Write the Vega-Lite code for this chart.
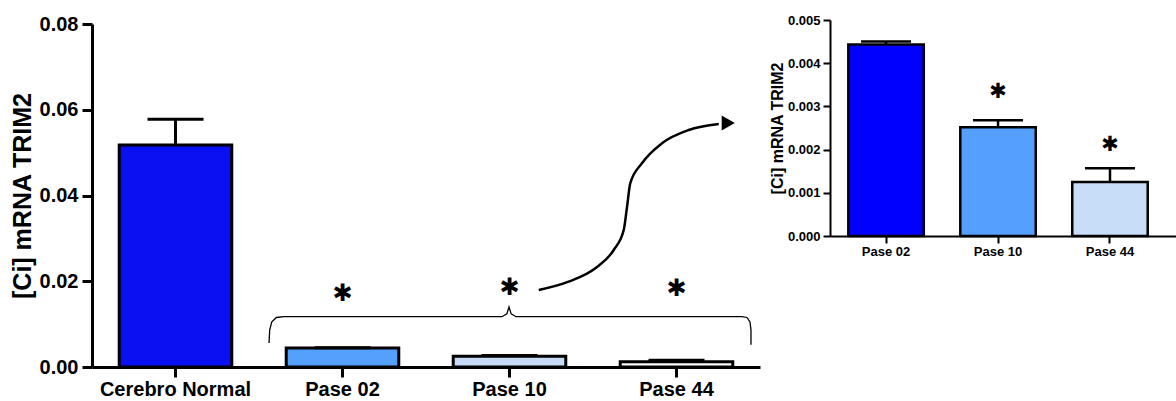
{
  "$schema": "https://vega.github.io/schema/vega-lite/v6.json",
  "background": "white",
  "padding": {"left": 10, "top": 14, "right": 0, "bottom": 0},
  "spacing": 9,
  "resolve": {"scale": {"color": "independent"}},
  "config": {
    "view": {"stroke": null},
    "font": "Liberation Sans",
    "axis": {
      "domainColor": "black",
      "tickColor": "black",
      "labelColor": "black",
      "titleColor": "black",
      "labelFont": "Liberation Sans",
      "titleFont": "Liberation Sans",
      "labelFontWeight": "bold",
      "titleFontWeight": "bold",
      "grid": false
    }
  },
  "datasets": {
    "main": [
      {"group": "Cerebro Normal", "value": 0.0518, "err": 0.0578},
      {"group": "Pase 02", "value": 0.00442, "err": 0.0045},
      {"group": "Pase 10", "value": 0.00252, "err": 0.00268},
      {"group": "Pase 44", "value": 0.00125, "err": 0.00157}
    ],
    "mainStars": [
      {"group": "Pase 02", "value": 0.01756, "label": "✱"},
      {"group": "Pase 10", "value": 0.01878, "label": "✱"},
      {"group": "Pase 44", "value": 0.01866, "label": "✱"}
    ],
    "brace": [
      {"order": 1, "pos": 1.060, "value": 0.0056},
      {"order": 2, "pos": 1.064, "value": 0.0086},
      {"order": 3, "pos": 1.076, "value": 0.0105},
      {"order": 4, "pos": 1.104, "value": 0.01155},
      {"order": 5, "pos": 1.150, "value": 0.01173},
      {"order": 6, "pos": 2.455, "value": 0.01173},
      {"order": 7, "pos": 2.484, "value": 0.0124},
      {"order": 8, "pos": 2.497, "value": 0.0140},
      {"order": 9, "pos": 2.510, "value": 0.0124},
      {"order": 10, "pos": 2.539, "value": 0.01173},
      {"order": 11, "pos": 3.892, "value": 0.01173},
      {"order": 12, "pos": 3.922, "value": 0.01155},
      {"order": 13, "pos": 3.940, "value": 0.0105},
      {"order": 14, "pos": 3.946, "value": 0.0086},
      {"order": 15, "pos": 3.946, "value": 0.0052}
    ],
    "arrow": [
      {"pos": 2.675, "value": 0.01796},
      {"pos": 2.854, "value": 0.01990},
      {"pos": 3.014, "value": 0.02302},
      {"pos": 3.124, "value": 0.02729},
      {"pos": 3.184, "value": 0.03195},
      {"pos": 3.204, "value": 0.03739},
      {"pos": 3.223, "value": 0.04285},
      {"pos": 3.293, "value": 0.04751},
      {"pos": 3.413, "value": 0.05218},
      {"pos": 3.573, "value": 0.05528},
      {"pos": 3.753, "value": 0.05668}
    ],
    "arrowHead": [
      {"pos": 3.81, "value": 0.05691}
    ],
    "inset": [
      {"group": "Pase 02", "value": 0.00443, "err": 0.0045},
      {"group": "Pase 10", "value": 0.00252, "err": 0.00268},
      {"group": "Pase 44", "value": 0.00125, "err": 0.00157}
    ],
    "insetStars": [
      {"group": "Pase 10", "value": 0.00338, "label": "✱"},
      {"group": "Pase 44", "value": 0.00215, "label": "✱"}
    ]
  },
  "hconcat": [
    {
      "width": 668,
      "height": 343,
      "resolve": {"scale": {"x": "independent"}, "axis": {"x": "independent"}},
      "layer": [
        {
          "layer": [
            {
              "data": {"name": "main"},
              "mark": {"type": "bar", "stroke": "black", "strokeWidth": 3},
              "encoding": {
                "x": {
                  "field": "group", "type": "nominal", "sort": null,
                  "scale": {"paddingInner": 0.326, "paddingOuter": 0.163},
                  "axis": {"title": null, "labelAngle": 0, "labelFontSize": 20, "labelPadding": 2, "domainWidth": 3, "tickWidth": 3, "tickSize": 10}
                },
                "y": {
                  "field": "value", "type": "quantitative",
                  "scale": {"domain": [0, 0.08], "nice": false},
                  "axis": {"title": "[Ci] mRNA TRIM2", "titleFontSize": 25, "titlePadding": 4, "values": [0, 0.02, 0.04, 0.06, 0.08], "format": ".2f", "labelFontSize": 20, "labelPadding": 4, "domainWidth": 3, "tickWidth": 3, "tickSize": 10}
                },
                "color": {
                  "field": "group", "type": "nominal", "legend": null,
                  "scale": {"domain": ["Cerebro Normal", "Pase 02", "Pase 10", "Pase 44"], "range": ["#0a10f2", "#55a0fa", "#c6dcf6", "#ffffff"]}
                }
              }
            },
            {
              "data": {"name": "main"},
              "mark": {"type": "rule", "stroke": "black", "strokeWidth": 3},
              "encoding": {
                "x": {"field": "group", "type": "nominal", "sort": null},
                "y": {"field": "value", "type": "quantitative"},
                "y2": {"field": "err"}
              }
            },
            {
              "data": {"name": "main"},
              "mark": {"type": "tick", "color": "black", "size": 56, "thickness": 3, "opacity": 1},
              "encoding": {
                "x": {"field": "group", "type": "nominal", "sort": null},
                "y": {"field": "err", "type": "quantitative"}
              }
            },
            {
              "data": {"name": "mainStars"},
              "mark": {"type": "text", "font": "DejaVu Sans", "fontSize": 24, "color": "black", "baseline": "middle", "dy": 2},
              "encoding": {
                "x": {"field": "group", "type": "nominal", "sort": null},
                "y": {"field": "value", "type": "quantitative"},
                "text": {"field": "label"}
              }
            }
          ]
        },
        {
          "layer": [
            {
              "data": {"name": "brace"},
              "mark": {"type": "line", "color": "black", "strokeWidth": 1.3},
              "encoding": {
                "x": {"field": "pos", "type": "quantitative", "scale": {"domain": [0, 4], "nice": false, "zero": false}, "axis": null},
                "y": {"field": "value", "type": "quantitative"},
                "order": {"field": "order"}
              }
            },
            {
              "data": {"name": "arrow"},
              "mark": {"type": "line", "color": "black", "strokeWidth": 2.5, "interpolate": "monotone"},
              "encoding": {
                "x": {"field": "pos", "type": "quantitative"},
                "y": {"field": "value", "type": "quantitative"}
              }
            },
            {
              "data": {"name": "arrowHead"},
              "mark": {"type": "point", "shape": "triangle-right", "filled": true, "color": "black", "opacity": 1, "size": 230},
              "encoding": {
                "x": {"field": "pos", "type": "quantitative"},
                "y": {"field": "value", "type": "quantitative"}
              }
            }
          ]
        }
      ]
    },
    {
      "width": 348,
      "height": 212,
      "layer": [
        {
          "data": {"name": "inset"},
          "mark": {"type": "bar", "stroke": "black", "strokeWidth": 2.5},
          "encoding": {
            "x": {
              "field": "group", "type": "nominal", "sort": null,
              "scale": {"paddingInner": 0.326, "paddingOuter": 0.217, "align": 0.377},
              "axis": {"title": null, "labelAngle": 0, "labelFontSize": 13, "labelPadding": 2, "domainWidth": 2, "tickWidth": 2, "tickSize": 7}
            },
            "y": {
              "field": "value", "type": "quantitative",
              "scale": {"domain": [0, 0.005], "nice": false, "range": [212, -4]},
              "axis": {"title": "[Ci] mRNA TRIM2", "titleFontSize": 16, "titlePadding": 2, "values": [0, 0.001, 0.002, 0.003, 0.004, 0.005], "format": ".3f", "labelFontSize": 13, "labelPadding": 3, "domainWidth": 2, "tickWidth": 2, "tickSize": 7}
            },
            "color": {
              "field": "group", "type": "nominal", "legend": null,
              "scale": {"domain": ["Pase 02", "Pase 10", "Pase 44"], "range": ["#0000ff", "#55a0ff", "#c8ddf7"]}
            }
          }
        },
        {
          "data": {"name": "inset"},
          "mark": {"type": "rule", "stroke": "black", "strokeWidth": 2.5},
          "encoding": {
            "x": {"field": "group", "type": "nominal", "sort": null},
            "y": {"field": "value", "type": "quantitative"},
            "y2": {"field": "err"}
          }
        },
        {
          "data": {"name": "inset"},
          "mark": {"type": "tick", "color": "black", "size": 50, "thickness": 2.5, "opacity": 1},
          "encoding": {
            "x": {"field": "group", "type": "nominal", "sort": null},
            "y": {"field": "err", "type": "quantitative"}
          }
        },
        {
          "data": {"name": "insetStars"},
          "mark": {"type": "text", "font": "DejaVu Sans", "fontSize": 21, "color": "black", "baseline": "middle", "dy": 2},
          "encoding": {
            "x": {"field": "group", "type": "nominal", "sort": null},
            "y": {"field": "value", "type": "quantitative"},
            "text": {"field": "label"}
          }
        }
      ]
    }
  ]
}
